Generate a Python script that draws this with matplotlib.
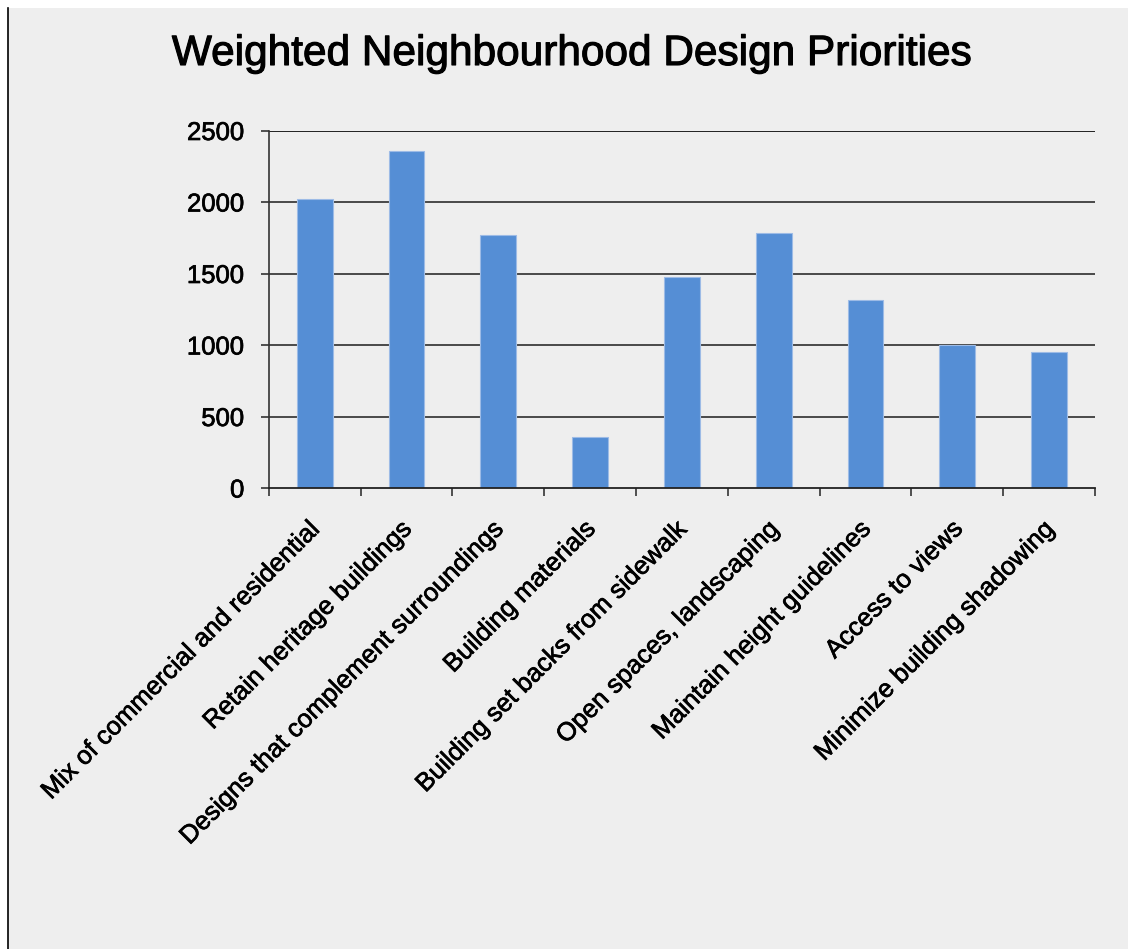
import matplotlib
matplotlib.use('Agg')
import matplotlib.pyplot as plt
import matplotlib.transforms as mtransforms
import matplotlib.patheffects as pe
from matplotlib.patches import Rectangle
from matplotlib.lines import Line2D

# Данные графика
categories = ['Mix of commercial and residential', 'Retain heritage buildings',
              'Designs that complement surroundings', 'Building materials',
              'Building set backs from sidewalk', 'Open spaces, landscaping',
              'Maintain height guidelines', 'Access to views',
              'Minimize building shadowing']
values = [2020, 2360, 1770, 355, 1475, 1780, 1315, 1000, 950]
y_ticks = [0, 500, 1000, 1500, 2000, 2500]

plt.rcParams['font.family'] = ['Liberation Sans', 'DejaVu Sans']

W, H = 1128, 949
fig = plt.figure(figsize=(W / 100, H / 100), dpi=100, facecolor='white')

# Серый фон и чёрная линия слева
fig.patches.append(Rectangle((8 / W, 0), 1 - 8 / W, 1 - 8 / H, transform=fig.transFigure,
                             facecolor='#eeeeee', edgecolor='none', zorder=-10))
fig.lines.append(Line2D([7.5 / W, 7.5 / W], [0, 1 - 8 / H], transform=fig.transFigure,
                        color='black', linewidth=1.2))

ax = fig.add_axes([268.7 / W, 1 - 488 / H, (1095 - 268.7) / W, (488 - 130.5) / H])
ax.set_facecolor('none')

x = list(range(len(categories)))
ax.bar(x, values, width=0.39, color='#558ed5', edgecolor='#9dbbe6', linewidth=0.8, zorder=3)

ax.set_xlim(-0.5, len(categories) - 0.5)
ax.set_ylim(0, 2500)
ax.set_yticks(y_ticks)
ax.set_yticklabels([str(v) for v in y_ticks], fontsize=18.5)
for v in y_ticks[1:]:
    ax.axhline(v, color='#3c3c3c' if v < 2500 else '#111111', linewidth=1.3, zorder=1)

# Деления на границах категорий, подписи по центрам
ax.set_xticks([i - 0.5 for i in range(len(categories) + 1)])
ax.set_xticklabels([])
ax.set_xticks(x, minor=True)
ax.set_xticklabels(categories, minor=True, fontsize=18.5, rotation=45,
                   ha='right', va='baseline', rotation_mode='anchor')
ax.tick_params(axis='x', which='major', direction='out', length=5.5, width=1.2, color='#333333')
ax.tick_params(axis='x', which='minor', length=0, pad=30)
ax.tick_params(axis='y', direction='out', length=5.5, width=1.2, color='#333333', pad=12)

offset = mtransforms.ScaledTranslation(7 / 100, 0, fig.dpi_scale_trans)
stroke = [pe.withStroke(linewidth=0.5, foreground='black')]
for lbl in ax.get_xticklabels(minor=True):
    lbl.set_transform(lbl.get_transform() + offset)
    lbl.set_path_effects(stroke)
for lbl in ax.get_yticklabels():
    lbl.set_path_effects(stroke)

for side in ['top', 'right']:
    ax.spines[side].set_visible(False)
ax.spines['left'].set_color('#333333')
ax.spines['left'].set_linewidth(1.2)
ax.spines['bottom'].set_color('#222222')
ax.spines['bottom'].set_linewidth(1.3)
ax.spines['bottom'].set_zorder(4)

fig.text(572 / W, 1 - 65 / H, 'Weighted Neighbourhood Design Priorities',
         fontsize=30.5, ha='center', va='baseline', color='black',
         path_effects=[pe.withStroke(linewidth=0.8, foreground='black')])

plt.savefig('out.png', dpi=100, facecolor=fig.get_facecolor())
